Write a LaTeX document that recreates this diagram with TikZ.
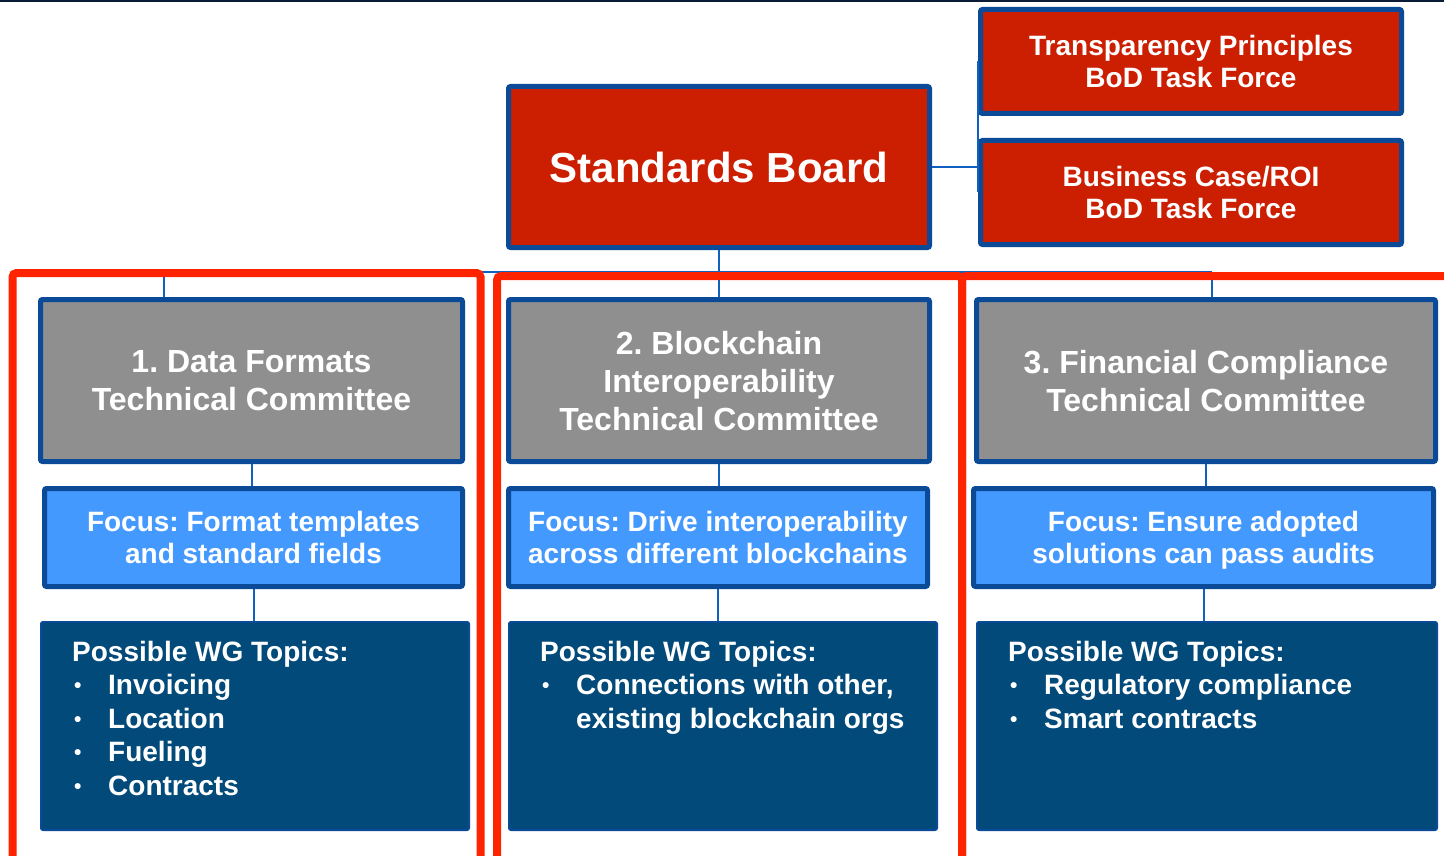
\documentclass[tikz,border=0pt]{standalone}
\usepackage{fontspec}
\setmainfont{Liberation Sans}
\definecolor{boardred}{HTML}{CC1E00}
\definecolor{edgeblue}{HTML}{0B4A97}
\definecolor{framered}{HTML}{FF2400}
\definecolor{boxgray}{HTML}{8F8F8F}
\definecolor{focusblue}{HTML}{4499FF}
\definecolor{topicblue}{HTML}{024A79}
\definecolor{linkblue}{HTML}{1060C0}
\definecolor{topnavy}{HTML}{0A1B35}
\newcommand{\topicitem}[1]{\hspace*{2pt}\makebox[34pt][l]{\raisebox{2pt}{\fontsize{21}{21}\selectfont •}}#1}
\frenchspacing
\begin{document}
\begin{tikzpicture}[x=1pt, y=-1pt,
  box/.style={draw=edgeblue, line width=5pt, rounded corners=2pt, inner sep=0pt, text=white, align=center, text depth=0pt},
  board/.style={box, fill=boardred, font=\bfseries\fontsize{28}{32}\selectfont},
  cttee/.style={box, fill=boxgray, minimum height=162, font=\bfseries\fontsize{32}{38}\selectfont},
  focus/.style={box, fill=focusblue, minimum height=98, font=\bfseries\fontsize{28}{32}\selectfont},
  topics/.style={draw=edgeblue, line width=2pt, fill=topicblue, rounded corners=2pt, minimum height=208, inner sep=0pt},
  topictext/.style={anchor=north west, inner sep=0pt, text=white, align=left, font=\bfseries\fontsize{28}{33.5}\selectfont},
  link/.style={draw=linkblue, line width=2pt},
  groupframe/.style={draw=framered, line width=8pt, rounded corners=4pt}]
\useasboundingbox (0,0) rectangle (1444,856);
\clip (0,0) rectangle (1444,856);
\draw[topnavy, line width=2pt] (0,1) -- (1444,1);

\node[board, minimum width=421, minimum height=161, font=\bfseries\fontsize{42}{50}\selectfont] (sb) at (719,167) {Standards Board};
\node[board, minimum width=421, minimum height=104] (tp) at (1191,61.5) {Transparency Principles\\BoD Task Force};
\node[board, minimum width=421, minimum height=104] (bc) at (1191,192.5) {Business Case/ROI\\BoD Task Force};

\node[cttee, minimum width=422] (c1) at (251.5,380.5) {1. Data Formats\\Technical Committee};
\node[cttee, minimum width=421] (c2) at (719,380.5) {2. Blockchain\\Interoperability\\Technical Committee};
\node[cttee, minimum width=459] (c3) at (1206,380.5) {3. Financial Compliance\\Technical Committee};

\node[focus, minimum width=418] (f1) at (253.5,537.5) {Focus: Format templates\\and standard fields};
\node[focus, minimum width=419] (f2) at (718,537.5) {Focus: Drive interoperability\\across different blockchains};
\node[focus, minimum width=460] (f3) at (1203.5,537.5) {Focus: Ensure adopted\\solutions can pass audits};

\node[topics, minimum width=428] (t1) at (255,726) {};
\node[topics, minimum width=428] (t2) at (723,726) {};
\node[topics, minimum width=460] (t3) at (1207,726) {};
\node[topictext] (t1text) at (72,641) {Possible WG Topics:\\\topicitem{Invoicing}\\\topicitem{Location}\\\topicitem{Fueling}\\\topicitem{Contracts}};
\node[topictext] (t2text) at (540,641) {Possible WG Topics:\\\topicitem{Connections with other,}\\\hspace*{36pt}existing blockchain orgs};
\node[topictext] (t3text) at (1008,641) {Possible WG Topics:\\\topicitem{Regulatory compliance}\\\topicitem{Smart contracts}};

\coordinate (bus) at (719,272);
\coordinate (d1) at (164,272);
\coordinate (d3) at (1212,272);
\draw[link] (sb.east) -- (sb.east -| tp.west);
\draw[link] (tp.west) -- (bc.west);
\draw[link] (sb.south) -- (bus);
\draw[link] (d1) -- (d3);
\draw[link] (d1) -- (d1 |- c1.north);
\draw[link] (bus) -- (c2.north);
\draw[link] (d3) -- (d3 |- c3.north);
\draw[link] (c1.south) -- (c1.south |- f1.north);
\draw[link] (c2.south) -- (c2.south |- f2.north);
\draw[link] (c3.south) -- (c3.south |- f3.north);
\draw[link] (f1.south) -- (f1.south |- t1.north);
\draw[link] (f2.south) -- (f2.south |- t2.north);
\draw[link] (f3.south) -- (f3.south |- t3.north);

\draw[groupframe] (12.5,273) rectangle (480.5,880);
\draw[groupframe] (497,276) rectangle (962,880);
\draw[groupframe] (962,276) rectangle (1470,880);
\end{tikzpicture}
\end{document}
